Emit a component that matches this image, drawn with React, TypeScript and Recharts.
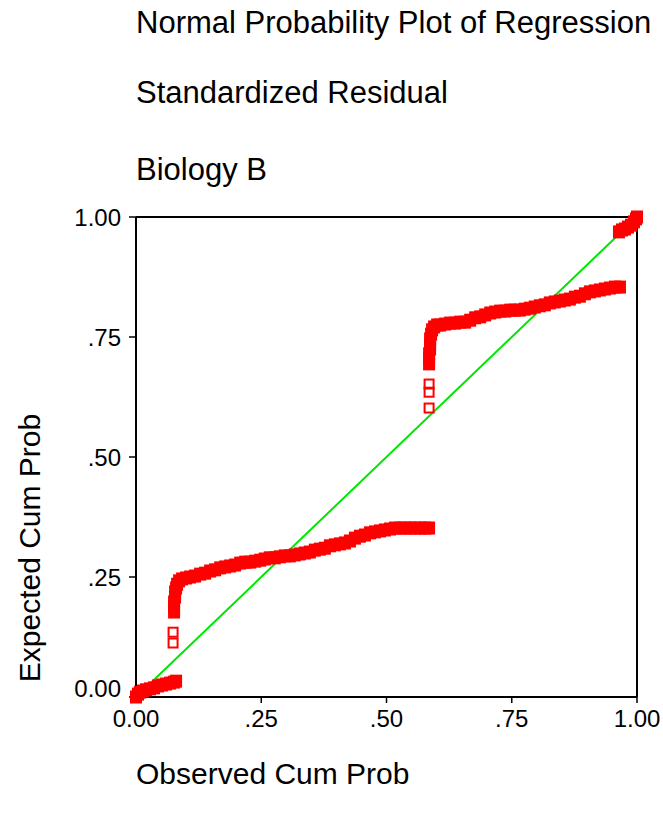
import { Scatter, ScatterChart, XAxis, YAxis, ReferenceLine } from "recharts"

// [observed cum prob, expected cum prob]
const lowCluster: [number, number][] = [
  [0, 0], [0.004, 0.006], [0.008, 0.01], [0.014, 0.0125], [0.02, 0.015], [0.028, 0.017],
  [0.036, 0.019], [0.044, 0.023], [0.052, 0.025], [0.06, 0.027], [0.068, 0.029],
  [0.076, 0.031], [0.08, 0.033],
]
const lowJump: [number, number][] = [
  [0.076, 0.177], [0.076, 0.1875], [0.076, 0.198], [0.078, 0.208], [0.078, 0.219],
  [0.08, 0.227], [0.082, 0.235], [0.086, 0.242], [0.092, 0.246],
]
const lowCurve: [number, number][] = [
  [0.1, 0.248], [0.108, 0.25], [0.118, 0.252], [0.128, 0.256], [0.138, 0.258], [0.148, 0.2625],
  [0.158, 0.265], [0.168, 0.269], [0.178, 0.271], [0.188, 0.273], [0.198, 0.275], [0.208, 0.279],
  [0.218, 0.281], [0.228, 0.281], [0.238, 0.283], [0.248, 0.285], [0.257, 0.2875], [0.267, 0.29],
  [0.277, 0.29], [0.287, 0.292], [0.297, 0.294], [0.307, 0.294], [0.317, 0.296], [0.327, 0.298],
  [0.337, 0.3], [0.347, 0.302], [0.357, 0.306], [0.367, 0.308], [0.377, 0.31], [0.387, 0.315],
  [0.397, 0.317], [0.407, 0.319], [0.417, 0.321], [0.427, 0.325], [0.437, 0.331], [0.447, 0.335],
  [0.457, 0.3375], [0.467, 0.342], [0.477, 0.344], [0.487, 0.346], [0.497, 0.348], [0.507, 0.35],
  [0.517, 0.352], [0.527, 0.352], [0.537, 0.352], [0.547, 0.352], [0.557, 0.352], [0.567, 0.352],
  [0.577, 0.352], [0.585, 0.352],
]
const highJump: [number, number][] = [
  [0.585, 0.694], [0.585, 0.704], [0.585, 0.715], [0.587, 0.725], [0.587, 0.735], [0.587, 0.746],
  [0.589, 0.756], [0.591, 0.765], [0.595, 0.771], [0.601, 0.775],
]
const highCurve: [number, number][] = [
  [0.607, 0.775], [0.617, 0.777], [0.627, 0.779], [0.637, 0.779], [0.647, 0.781], [0.657, 0.781],
  [0.667, 0.785], [0.677, 0.79], [0.687, 0.792], [0.697, 0.796], [0.707, 0.8], [0.717, 0.802],
  [0.727, 0.804], [0.737, 0.804], [0.747, 0.806], [0.756, 0.806], [0.766, 0.806], [0.776, 0.808],
  [0.786, 0.81], [0.796, 0.8125], [0.806, 0.815], [0.816, 0.817], [0.826, 0.821], [0.836, 0.823],
  [0.846, 0.825], [0.856, 0.827], [0.866, 0.829], [0.876, 0.833], [0.886, 0.835], [0.896, 0.84],
  [0.906, 0.844], [0.916, 0.846], [0.926, 0.848], [0.936, 0.85], [0.946, 0.852], [0.956, 0.854],
  [0.966, 0.854],
]
const highCluster: [number, number][] = [
  [0.964, 0.969], [0.97, 0.973], [0.976, 0.975], [0.982, 0.979], [0.988, 0.983], [0.994, 0.99],
  [0.998, 0.996], [1, 1],
]
// isolated cases drawn as open squares
const isolated: [number, number][] = [
  [0.074, 0.1125], [0.074, 0.135], [0.585, 0.602], [0.585, 0.635], [0.585, 0.652],
]
const diagonal: [number, number][] = [[0, 0], [1, 1]]

const ticks = [0, 0.25, 0.5, 0.75, 1]
const titleLines = ["Normal Probability Plot of Regression", "Standardized Residual", "Biology B"]
const xTitle = "Observed Cum Prob"
const yTitle = "Expected Cum Prob"

const toPts = (arr: [number, number][]) => arr.map(([obs, exp]) => ({ obs, exp }))
const dense = toPts([...lowCluster, ...lowJump, ...lowCurve, ...highJump, ...highCurve, ...highCluster])
const open = toPts(isolated)
const diag = toPts(diagonal)

const FONT = "'Liberation Sans', Arial, sans-serif"
const fmt = (v: number) => (v === 0 ? "0.00" : v === 1 ? "1.00" : "." + Math.round(v * 100))

const FilledSq = (p: any) => <rect x={p.cx - 6} y={p.cy - 6.5} width={12} height={13} fill="#ff0000" />
const OpenSq = (p: any) => (
  <rect x={p.cx - 4.5} y={p.cy - 4.5} width={9} height={9} fill="none" stroke="#ff0000" strokeWidth={2} />
)

const YTick = ({ x, y, payload }: any) => (
  <text x={x} y={y + (payload.value === 0 ? -9 : 0)} dy="0.36em" textAnchor="end" fontSize={24} fontFamily={FONT} fill="#000">
    {fmt(payload.value)}
  </text>
)
const XTick = ({ x, y, payload }: any) => (
  <text x={x} y={y} dy="0.75em" textAnchor="middle" fontSize={24} fontFamily={FONT} fill="#000">
    {fmt(payload.value)}
  </text>
)

export default function App() {
  return (
    <div style={{ position: "absolute", left: 0, top: 0, width: 663, height: 817, background: "#fff" }}>
      <ScatterChart width={663} height={817} margin={{ top: 217, right: 26, left: 0, bottom: 0 }}>
        <XAxis
          type="number"
          dataKey="obs"
          domain={[0, 1]}
          ticks={ticks}
          height={120}
          stroke="#000"
          strokeWidth={2}
          tickSize={6}
          tickMargin={6}
          tick={<XTick />}
          tickLine={{ stroke: "#000", strokeWidth: 1.5 }}
        />
        <YAxis
          type="number"
          dataKey="exp"
          domain={[0, 1]}
          ticks={ticks}
          width={136}
          stroke="#000"
          strokeWidth={2}
          tickSize={7}
          tickMargin={8}
          tick={<YTick />}
          tickLine={{ stroke: "#000", strokeWidth: 1.5 }}
        />
        <ReferenceLine y={1} stroke="#000" strokeWidth={2} />
        <ReferenceLine x={1} stroke="#000" strokeWidth={2} />
        <Scatter data={diag} line={{ stroke: "#00e600", strokeWidth: 2 }} shape={() => <g />} isAnimationActive={false} />
        <Scatter data={dense} shape={FilledSq} isAnimationActive={false} />
        <Scatter data={open} shape={OpenSq} isAnimationActive={false} />
      </ScatterChart>
      <svg width={663} height={817} style={{ position: "absolute", left: 0, top: 0, pointerEvents: "none" }}>
        <g fontFamily={FONT} fill="#000">
          <g fontSize={31}>
            <text x={136} y={33}>{titleLines[0]}</text>
            <text x={136} y={103}>{titleLines[1]}</text>
            <text x={136} y={180}>{titleLines[2]}</text>
          </g>
          <g fontSize={30}>
            <text x={136} y={784}>{xTitle}</text>
            <text transform="translate(40,548) rotate(-90)" textAnchor="middle">{yTitle}</text>
          </g>
        </g>
      </svg>
    </div>
  )
}
